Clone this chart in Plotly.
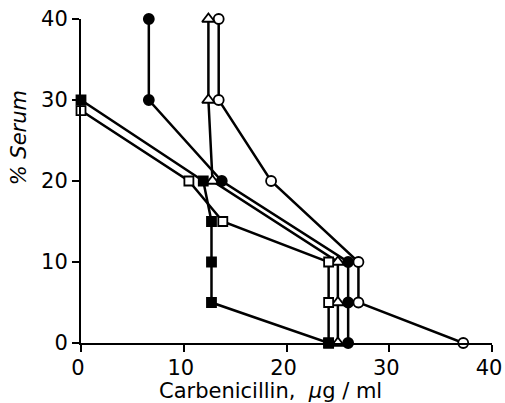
import plotly.graph_objects as go

# Data (x = Carbenicillin µg/ml, y = % Serum)
filled_circle_x = [6.6, 6.6, 13.7, 26.0, 26.0, 26.0]
filled_circle_y = [40, 30, 20, 10, 5, 0]

open_circle_x = [13.4, 13.4, 18.5, 27.0, 27.0, 37.2]
open_circle_y = [40, 30, 20, 10, 5, 0]

triangle_x = [12.4, 12.4, 12.8, 25.0, 25.0, 25.0]
triangle_y = [40, 30, 20, 10, 5, 0]

open_square_x = [0.0, 10.5, 13.8, 24.1, 24.1, 24.1]
open_square_y = [28.7, 20, 15, 10, 5, 0]

filled_square_x = [0.0, 11.9, 12.7, 12.7, 12.7, 24.1]
filled_square_y = [30, 20, 15, 10, 5, 0]

x_ticks = [0, 10, 20, 30, 40]
y_ticks = [0, 10, 20, 30, 40]

FONT = "DejaVu Sans"

fig = go.Figure()

def add(x, y, symbol, fill, size=10):
    fig.add_trace(go.Scatter(
        x=x, y=y, mode="lines+markers",
        line=dict(color="black", width=2.5),
        marker=dict(symbol=symbol, size=size, color=fill,
                    line=dict(color="black", width=1.8)),
        cliponaxis=False, showlegend=False, hoverinfo="skip"))

add(open_circle_x, open_circle_y, "circle", "white")
add(triangle_x, triangle_y, "triangle-up", "white", 11)
add(open_square_x, open_square_y, "square", "white", 9)
add(filled_circle_x, filled_circle_y, "circle", "black")
add(filled_square_x, filled_square_y, "square", "black", 9)

fig.update_layout(
    width=505, height=403,
    margin=dict(l=81, r=13, t=19, b=60, autoexpand=False),
    plot_bgcolor="white", paper_bgcolor="white",
    font=dict(family=FONT, color="black", size=20),
    xaxis=dict(range=[0, 40], tickvals=x_ticks, showgrid=False, zeroline=False,
               showline=True, linecolor="black", linewidth=2, automargin=False,
               ticks="outside", ticklen=7, tickwidth=2, tickcolor="black",
               ticklabelshift=-3, ticklabelstandoff=-2,
               tickfont=dict(size=21, family=FONT)),
    yaxis=dict(range=[0, 40], tickvals=y_ticks, showgrid=False, zeroline=False,
               showline=True, linecolor="black", linewidth=2, automargin=False,
               ticks="outside", ticklen=7, tickwidth=2, tickcolor="black",
               tickfont=dict(size=21, family=FONT)),
    annotations=[
        dict(text="Carbenicillin,  <i>μ</i>g / ml", xref="paper", yref="paper",
             x=0.46, y=-0.147, yanchor="middle", xanchor="center", showarrow=False,
             font=dict(size=21, family=FONT)),
        dict(text="<i>% Serum</i>", xref="paper", yref="paper",
             x=-0.15, y=0.633, xanchor="center", yanchor="middle", textangle=-90,
             showarrow=False, font=dict(size=21, family=FONT)),
    ],
)

fig.write_html("out.html", config={"displayModeBar": False},
               post_script="document.body.style.margin='0';")
